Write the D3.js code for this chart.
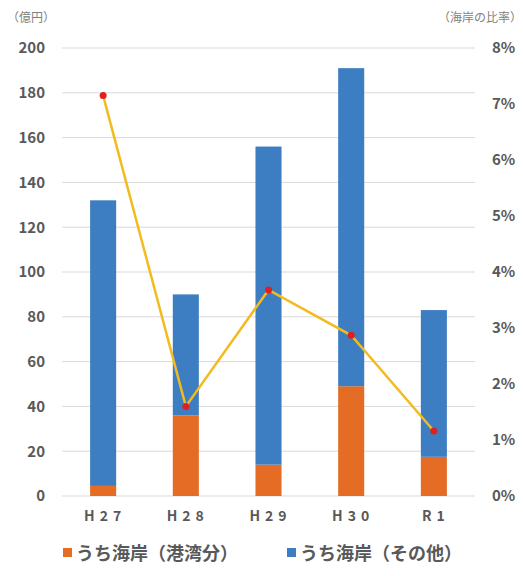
<!DOCTYPE html>
<html><head><meta charset="utf-8">
<script src="https://cdn.jsdelivr.net/npm/d3@7"></script>
<style>
body{margin:0;background:#fff;}
text{font-family:"Noto Sans CJK JP","Noto Sans",sans-serif;}
</style></head>
<body><svg id="c" width="523" height="576"></svg>
<script>
const categories = ["H27","H28","H29","H30","R1"];
const portValues = [4.5, 36, 14, 49, 17.5];
const otherValues = [127.5, 54, 142, 142, 65.5];
const ratioValues = [7.15, 1.6, 3.68, 2.87, 1.16];
const leftTicks = [0,20,40,60,80,100,120,140,160,180,200];
const rightTicks = [0,1,2,3,4,5,6,7,8];
const seriesNames = ["うち海岸（港湾分）","うち海岸（その他）"];

const svg = d3.select("#c");
const x = d3.scaleBand().domain(categories).range([62,475]).paddingInner(0.685).paddingOuter(0.34);
const y = d3.scaleLinear().domain([0,200]).range([496,48]);
const y2 = d3.scaleLinear().domain([0,8]).range([496,48]);

// grid
svg.append("g").selectAll("line").data(leftTicks).join("line")
  .attr("x1",62).attr("x2",475).attr("y1",d=>y(d)).attr("y2",d=>y(d))
  .attr("stroke","#d9d9d9").attr("stroke-width",1);

// left axis
const ga = svg.append("g").attr("transform","translate(45,0)")
  .call(d3.axisLeft(y).tickValues(leftTicks).tickSize(0).tickPadding(0));
ga.select(".domain").remove();
ga.selectAll("text").attr("font-size",15).attr("font-weight","bold").attr("fill","#595959").attr("font-family","'Noto Sans',sans-serif");

const gr = svg.append("g").attr("transform","translate(492,0)")
  .call(d3.axisRight(y2).tickValues(rightTicks).tickFormat(d=>d+"%").tickSize(0).tickPadding(0));
gr.select(".domain").remove();
gr.selectAll("text").attr("font-size",15).attr("font-weight","bold").attr("fill","#595959").attr("font-family","'Noto Sans',sans-serif");

// bars
const stackData = categories.map((c,i)=>({cat:c, port:portValues[i], other:otherValues[i]}));
const stack = d3.stack().keys(["port","other"])(stackData);
const colors = ["#e46c24","#3d7dc2"];
svg.append("g").selectAll("g").data(stack).join("g").attr("fill",(d,i)=>colors[i])
  .selectAll("rect").data(d=>d).join("rect")
  .attr("x",d=>x(d.data.cat)).attr("width",x.bandwidth())
  .attr("y",d=>y(d[1])).attr("height",d=>y(d[0])-y(d[1]));

// line
const line = d3.line().x((d,i)=>x(categories[i])+x.bandwidth()/2).y(d=>y2(d));
svg.append("path").datum(ratioValues).attr("d",line).attr("fill","none")
  .attr("stroke","#f2bb1f").attr("stroke-width",2.5);
svg.append("g").selectAll("circle").data(ratioValues).join("circle")
  .attr("cx",(d,i)=>x(categories[i])+x.bandwidth()/2).attr("cy",d=>y2(d))
  .attr("r",3.5).attr("fill","#e0201d");

// category labels
svg.append("g").selectAll("text").data(categories).join("text")
  .attr("x",c=>x(c)+x.bandwidth()/2+2).attr("y",521).attr("text-anchor","middle")
  .attr("font-size",14).attr("font-weight","bold").attr("fill","#595959")
  .attr("letter-spacing","5px")
  .text(c=>c);

// unit labels
svg.append("text").attr("x",7).attr("y",22).attr("font-size",12).attr("fill","#7f7f7f").text("（億円）");
svg.append("text").attr("x",522).attr("y",22).attr("text-anchor","end").attr("font-size",12).attr("fill","#7f7f7f").text("（海岸の比率）");

// legend
const legX = [63, 287];
const lg = svg.append("g").selectAll("g").data(seriesNames).join("g")
  .attr("transform",(d,i)=>`translate(${legX[i]},0)`);
lg.append("rect").attr("x",0).attr("y",548).attr("width",9).attr("height",9).attr("fill",(d,i)=>colors[i]);
lg.append("text").attr("x",13).attr("y",560).attr("font-size",18).attr("font-weight","bold").attr("fill","#595959").text(d=>d);
</script></body></html>
